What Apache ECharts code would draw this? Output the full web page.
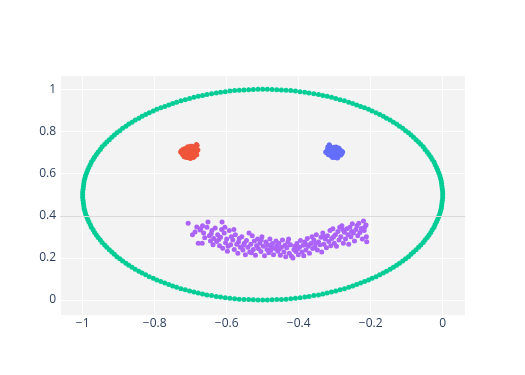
<!DOCTYPE html>
<html><head><meta charset="utf-8">
<script src="https://cdn.jsdelivr.net/npm/echarts@6/dist/echarts.min.js"></script>
<style>html,body{margin:0;padding:0;background:#fff}#c{width:525px;height:375px}</style>
</head><body><div id="c"></div>
<script>
// Face outline (green)
const circleX = [
0,0,-0.001,-0.002,-0.003,-0.004,-0.006,-0.008,-0.011,-0.014,-0.017,-0.021,-0.024,-0.029,-0.033,-0.038,-0.043,-0.049,-0.054,-0.061,-0.067,-0.074,-0.081,-0.088,-0.095,-0.103,-0.111,-0.12,-0.128,-0.137,-0.146,-0.156,-0.165,-0.175,-0.185,-0.196,-0.206,-0.217,-0.228,-0.239,-0.25,-0.261,-0.273,-0.285,-0.297,-0.309,-0.321,-0.333,-0.345,-0.358,-0.371,-0.383,-0.396,-0.409,-0.422,-0.435,-0.448,-0.461,-0.474,-0.487,
-0.5,-0.513,-0.526,-0.539,-0.552,-0.565,-0.578,-0.591,-0.604,-0.617,-0.629,-0.642,-0.655,-0.667,-0.679,-0.691,-0.703,-0.715,-0.727,-0.739,-0.75,-0.761,-0.772,-0.783,-0.794,-0.804,-0.815,-0.825,-0.835,-0.844,-0.854,-0.863,-0.872,-0.88,-0.889,-0.897,-0.905,-0.912,-0.919,-0.926,-0.933,-0.939,-0.946,-0.951,-0.957,-0.962,-0.967,-0.971,-0.976,-0.979,-0.983,-0.986,-0.989,-0.992,-0.994,-0.996,-0.997,-0.998,-0.999,-1,
-1,-1,-0.999,-0.998,-0.997,-0.996,-0.994,-0.992,-0.989,-0.986,-0.983,-0.979,-0.976,-0.971,-0.967,-0.962,-0.957,-0.951,-0.946,-0.939,-0.933,-0.926,-0.919,-0.912,-0.905,-0.897,-0.889,-0.88,-0.872,-0.863,-0.854,-0.844,-0.835,-0.825,-0.815,-0.804,-0.794,-0.783,-0.772,-0.761,-0.75,-0.739,-0.727,-0.715,-0.703,-0.691,-0.679,-0.667,-0.655,-0.642,-0.629,-0.617,-0.604,-0.591,-0.578,-0.565,-0.552,-0.539,-0.526,-0.513,
-0.5,-0.487,-0.474,-0.461,-0.448,-0.435,-0.422,-0.409,-0.396,-0.383,-0.371,-0.358,-0.345,-0.333,-0.321,-0.309,-0.297,-0.285,-0.273,-0.261,-0.25,-0.239,-0.228,-0.217,-0.206,-0.196,-0.185,-0.175,-0.165,-0.156,-0.146,-0.137,-0.128,-0.12,-0.111,-0.103,-0.095,-0.088,-0.081,-0.074,-0.067,-0.061,-0.054,-0.049,-0.043,-0.038,-0.033,-0.029,-0.024,-0.021,-0.017,-0.014,-0.011,-0.008,-0.006,-0.004,-0.003,-0.002,-0.001,0
];
const circleY = [
0.5,0.513,0.526,0.539,0.552,0.565,0.578,0.591,0.604,0.617,0.629,0.642,0.655,0.667,0.679,0.691,0.703,0.715,0.727,0.739,0.75,0.761,0.772,0.783,0.794,0.804,0.815,0.825,0.835,0.844,0.854,0.863,0.872,0.88,0.889,0.897,0.905,0.912,0.919,0.926,0.933,0.939,0.946,0.951,0.957,0.962,0.967,0.971,0.976,0.979,0.983,0.986,0.989,0.992,0.994,0.996,0.997,0.998,0.999,1,
1,1,0.999,0.998,0.997,0.996,0.994,0.992,0.989,0.986,0.983,0.979,0.976,0.971,0.967,0.962,0.957,0.951,0.946,0.939,0.933,0.926,0.919,0.912,0.905,0.897,0.889,0.88,0.872,0.863,0.854,0.844,0.835,0.825,0.815,0.804,0.794,0.783,0.772,0.761,0.75,0.739,0.727,0.715,0.703,0.691,0.679,0.667,0.655,0.642,0.629,0.617,0.604,0.591,0.578,0.565,0.552,0.539,0.526,0.513,
0.5,0.487,0.474,0.461,0.448,0.435,0.422,0.409,0.396,0.383,0.371,0.358,0.345,0.333,0.321,0.309,0.297,0.285,0.273,0.261,0.25,0.239,0.228,0.217,0.206,0.196,0.185,0.175,0.165,0.156,0.146,0.137,0.128,0.12,0.111,0.103,0.095,0.088,0.081,0.074,0.067,0.061,0.054,0.049,0.043,0.038,0.033,0.029,0.024,0.021,0.017,0.014,0.011,0.008,0.006,0.004,0.003,0.002,0.001,0,
0,0,0.001,0.002,0.003,0.004,0.006,0.008,0.011,0.014,0.017,0.021,0.024,0.029,0.033,0.038,0.043,0.049,0.054,0.061,0.067,0.074,0.081,0.088,0.095,0.103,0.111,0.12,0.128,0.137,0.146,0.156,0.165,0.175,0.185,0.196,0.206,0.217,0.228,0.239,0.25,0.261,0.273,0.285,0.297,0.309,0.321,0.333,0.345,0.358,0.371,0.383,0.396,0.409,0.422,0.435,0.448,0.461,0.474,0.487
];
// Left eye (red)
const leftEye = [
[-0.712,0.707],[-0.698,0.716],[-0.705,0.689],[-0.69,0.698],[-0.716,0.694],[-0.7,0.73],[-0.708,0.676],[-0.694,0.683],[-0.72,0.712],[-0.686,0.719],
[-0.703,0.703],[-0.71,0.723],[-0.697,0.694],[-0.713,0.685],[-0.692,0.708],[-0.725,0.698],[-0.682,0.734],[-0.701,0.672],[-0.707,0.716],[-0.695,0.726],
[-0.718,0.68],[-0.688,0.689],[-0.704,0.696],[-0.699,0.71],[-0.711,0.701],[-0.684,0.703],[-0.715,0.719],[-0.693,0.676],[-0.706,0.683],[-0.7,0.701],
[-0.722,0.689],[-0.689,0.726],[-0.709,0.698],[-0.696,0.703],[-0.702,0.721],[-0.714,0.708],[-0.691,0.692],[-0.68,0.712],[-0.728,0.703],[-0.705,0.708],
[-0.697,0.687],[-0.717,0.703],[-0.684,0.738],[-0.71,0.69],[-0.7,0.689],[-0.721,0.716],[-0.719,0.69],[-0.69,0.68],[-0.703,0.68],[-0.712,0.676],
[-0.696,0.73],[-0.708,0.728],[-0.683,0.69],[-0.726,0.708],[-0.687,0.72]
];
// Right eye (blue)
const rightEye = [
[-0.308,0.707],[-0.295,0.716],[-0.302,0.689],[-0.288,0.698],[-0.313,0.694],[-0.298,0.719],[-0.305,0.68],[-0.292,0.687],[-0.318,0.708],[-0.284,0.701],
[-0.3,0.703],[-0.307,0.723],[-0.294,0.694],[-0.31,0.685],[-0.29,0.71],[-0.322,0.698],[-0.28,0.706],[-0.299,0.676],[-0.304,0.714],[-0.296,0.726],
[-0.315,0.737],[-0.286,0.69],[-0.301,0.696],[-0.297,0.708],[-0.309,0.7],[-0.283,0.696],[-0.312,0.719],[-0.291,0.678],[-0.303,0.683],[-0.298,0.701],
[-0.319,0.726],[-0.287,0.716],[-0.306,0.698],[-0.293,0.703],[-0.3,0.716],[-0.311,0.708],[-0.289,0.692],[-0.278,0.703],[-0.325,0.703],[-0.302,0.708],
[-0.295,0.685],[-0.314,0.703],[-0.285,0.712],[-0.307,0.69],[-0.297,0.692],[-0.317,0.69],[-0.28,0.695],[-0.293,0.674],[-0.306,0.676],[-0.289,0.722],
[-0.312,0.728],[-0.32,0.714],[-0.283,0.688],[-0.302,0.725],[-0.291,0.703]
];
// Mouth (purple)
const mouth = [
[-0.707,0.364],[-0.695,0.31],[-0.688,0.323],[-0.683,0.347],[-0.679,0.27],
[-0.674,0.332],[-0.668,0.27],[-0.672,0.338],[-0.664,0.318],[-0.661,0.296],[-0.667,0.352],
[-0.652,0.37],[-0.648,0.305],[-0.645,0.28],[-0.641,0.33],[-0.638,0.262],[-0.655,0.345],[-0.643,0.315],[-0.636,0.292],
[-0.632,0.342],[-0.628,0.278],[-0.625,0.31],[-0.62,0.258],[-0.617,0.298],[-0.613,0.37],[-0.614,0.335],[-0.622,0.287],[-0.611,0.246],
[-0.607,0.318],[-0.603,0.272],[-0.6,0.29],[-0.596,0.255],[-0.593,0.33],[-0.589,0.262],[-0.605,0.345],[-0.587,0.3],[-0.598,0.231],
[-0.583,0.285],[-0.579,0.24],[-0.576,0.31],[-0.572,0.265],[-0.569,0.222],[-0.565,0.292],[-0.562,0.25],[-0.58,0.335],[-0.567,0.275],
[-0.558,0.3],[-0.555,0.238],[-0.551,0.27],[-0.548,0.215],[-0.545,0.282],[-0.541,0.25],[-0.538,0.318],[-0.553,0.26],[-0.536,0.228],
[-0.533,0.265],[-0.529,0.305],[-0.526,0.24],[-0.523,0.28],[-0.52,0.212],[-0.517,0.258],[-0.514,0.29],[-0.531,0.225],[-0.512,0.245],
[-0.508,0.27],[-0.505,0.23],[-0.502,0.3],[-0.498,0.255],[-0.495,0.21],[-0.491,0.275],[-0.488,0.24],[-0.504,0.285],[-0.486,0.262],
[-0.483,0.225],[-0.48,0.29],[-0.476,0.252],[-0.473,0.268],[-0.47,0.215],[-0.466,0.245],[-0.463,0.28],[-0.478,0.235],[-0.461,0.258],
[-0.458,0.232],[-0.455,0.27],[-0.451,0.212],[-0.448,0.25],[-0.445,0.285],[-0.441,0.228],[-0.438,0.26],[-0.453,0.243],[-0.436,0.205],
[-0.433,0.248],[-0.43,0.275],[-0.426,0.222],[-0.423,0.262],[-0.42,0.208],[-0.416,0.2],[-0.413,0.24],[-0.428,0.29],[-0.411,0.255],
[-0.408,0.23],[-0.405,0.268],[-0.401,0.215],[-0.398,0.25],[-0.395,0.282],[-0.391,0.228],[-0.388,0.26],[-0.403,0.242],[-0.386,0.21],
[-0.383,0.275],[-0.38,0.238],[-0.376,0.292],[-0.373,0.255],[-0.37,0.222],[-0.366,0.268],[-0.363,0.3],[-0.378,0.262],[-0.361,0.245],
[-0.358,0.285],[-0.355,0.252],[-0.351,0.31],[-0.348,0.238],[-0.345,0.275],[-0.341,0.262],[-0.338,0.298],[-0.353,0.27],[-0.336,0.228],
[-0.333,0.318],[-0.33,0.265],[-0.326,0.29],[-0.323,0.248],[-0.32,0.305],[-0.316,0.278],[-0.313,0.33],[-0.328,0.3],[-0.311,0.258],
[-0.308,0.292],[-0.305,0.338],[-0.301,0.27],[-0.298,0.31],[-0.295,0.255],[-0.291,0.325],[-0.288,0.285],[-0.303,0.3],[-0.286,0.345],
[-0.283,0.3],[-0.28,0.352],[-0.276,0.27],[-0.273,0.322],[-0.27,0.29],[-0.266,0.338],[-0.263,0.31],[-0.278,0.335],[-0.261,0.265],
[-0.258,0.345],[-0.255,0.3],[-0.251,0.362],[-0.248,0.318],[-0.245,0.28],[-0.241,0.335],[-0.238,0.352],[-0.253,0.325],[-0.236,0.305],
[-0.233,0.365],[-0.23,0.32],[-0.226,0.34],[-0.223,0.29],[-0.22,0.375],[-0.216,0.348],[-0.213,0.356],[-0.211,0.277],[-0.218,0.33],[-0.212,0.3]
];
const xRange = [-1.063, 0.062];
const yRange = [-0.071, 1.068];

const circleData = circleX.map((x, i) => [x, circleY[i]]);
const fmt = v => {
  const r = Math.round(v * 100) / 100;
  if (r === 0) return '0';
  return (r < 0 ? '\u2212' : '') + String(Math.abs(r));
};
const axisCommon = {
  type: 'value', splitNumber: 5, minInterval: 0.2, maxInterval: 0.2,
  axisLine: {show: false}, axisTick: {show: false},
  splitLine: {show: true, lineStyle: {color: '#ffffff', width: 1}},
  axisLabel: {color: '#2a3f5f', fontFamily: 'Open Sans', fontSize: 12, formatter: fmt, showMinLabel: false, showMaxLabel: false}
};
const chart = echarts.init(document.getElementById('c'), null, {renderer: 'canvas'});
chart.setOption({
  animation: false,
  backgroundColor: '#ffffff',
  grid: {left: 60, right: 60, top: 75, bottom: 60, show: true, backgroundColor: '#f3f3f3', borderWidth: 0},
  xAxis: Object.assign({}, axisCommon, {min: xRange[0], max: xRange[1], axisLabel: Object.assign({}, axisCommon.axisLabel, {margin: 3})}),
  yAxis: Object.assign({}, axisCommon, {min: yRange[0], max: yRange[1], axisLabel: Object.assign({}, axisCommon.axisLabel, {margin: 4})}),
  series: [
    {type: 'scatter', name: 'right eye', data: rightEye, symbolSize: 5, itemStyle: {color: '#636efa', opacity: 1},
     markLine: {silent: true, symbol: 'none', label: {show: false}, lineStyle: {color: '#dadada', width: 1, type: 'solid'}, data: [{yAxis: 0.4}]}},
    {type: 'scatter', name: 'left eye', data: leftEye, symbolSize: 5, itemStyle: {color: '#EF553B', opacity: 1}},
    {type: 'scatter', name: 'face', data: circleData, symbolSize: 5, itemStyle: {color: '#00cc96', opacity: 1}},
    {type: 'scatter', name: 'mouth', data: mouth, symbolSize: 5, itemStyle: {color: '#ab63fa', opacity: 1}}
  ]
});
</script>
</body></html>
